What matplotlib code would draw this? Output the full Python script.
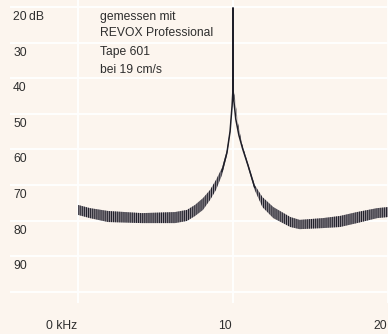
import numpy as np
import matplotlib
matplotlib.use("Agg")
import matplotlib.pyplot as plt

# Frequenz (kHz) und Band oben/unten (dB)
freq = [0.0, 0.77, 1.94, 4.13, 6.26, 7.03, 7.55, 8.06, 8.52, 8.9, 9.29, 9.61, 9.81, 9.94, 10.0,
        10.13, 10.32, 10.58, 10.97, 11.4, 11.9, 12.6, 13.7, 14.3, 15.8, 16.9, 18.0, 19.3, 20.0]
band_top = [75.6, 76.5, 77.3, 77.9, 77.6, 77.0, 75.6, 73.7, 71.4, 68.6, 65.2, 60.2, 54.6, 47.5, 42.8,
            45.8, 52.6, 58.4, 64.0, 70.0, 73.4, 76.2, 79.0, 79.8, 79.3, 78.7, 77.6, 76.5, 76.2]
band_bot = [78.4, 79.3, 80.4, 80.7, 80.7, 80.1, 78.7, 77.0, 74.2, 71.4, 67.2, 61.6, 55.4, 48.1, 43.3,
            46.4, 53.4, 59.2, 65.0, 71.4, 76.2, 79.3, 81.8, 82.4, 82.1, 81.8, 80.7, 79.3, 79.0]

# schmale Spitze bei 10 kHz
peak_f = [9.29, 9.61, 9.81, 9.94, 10.0, 10.0, 10.0, 10.06, 10.18, 10.38, 10.62, 10.97, 11.4]
peak_db = [66.2, 60.9, 55.0, 47.8, 43.0, 20.3, 43.0, 46.5, 51.5, 56.0, 59.8, 64.5, 70.7]

db_ticks = [20, 30, 40, 50, 60, 70, 80, 90, 100]
db_labels = ["20\u2009dB", "30", "40", "50", "60", "70", "80", "90", ""]
khz_ticks = [0, 10, 20]
khz_labels = ["0 kHz", "10", "20"]
note = ["gemessen mit", "REVOX Professional", "Tape 601", "bei 19 cm/s"]
note_db = [22.8, 27.3, 32.6, 37.7]

bg = "#fcf5ee"
ink = "#2e2e2e"
plt.rcParams['font.family'] = ['Liberation Sans', 'DejaVu Sans']
plt.rcParams['hatch.linewidth'] = 0.75

fig = plt.figure(figsize=(3.88, 3.34), dpi=100, facecolor=bg)
ax = fig.add_axes([0, 0, 1, 1])
ax.set_facecolor(bg)
ax.set_xlim(-78 / 15.5, 20.0)
ax.set_ylim(20 + 327 / 3.56, 20 - 7 / 3.56)
ax.axis("off")

# Raster (weiss)
ax.hlines(db_ticks, -4.39, 20.0, color="white", lw=1.3, zorder=1)
ax.vlines(khz_ticks, 20 - 7 / 3.56, 103.1, color="white", lw=1.3, zorder=1)

# Beschriftung
fs = 8.7
for v, lab in zip(db_ticks, db_labels):
    ax.text(-4.19, v + 2.8, lab, fontsize=fs, color=ink, ha="left", va="center")
for v, lab in zip(khz_ticks, khz_labels):
    ax.text(v - 0.05, 109.6, lab, fontsize=fs, color=ink, ha="right", va="center")
for v, lab in zip(note_db, note):
    ax.text(1.42, v, lab, fontsize=fs, color=ink, ha="left", va="center")

# Messkurve: gestricheltes Band + Spitze
ax.fill_between(freq, band_top, band_bot, facecolor="#9d979d", edgecolor="#1e1e28",
                hatch="||||||||", linewidth=0, zorder=2)
ax.plot(peak_f, peak_db, color="#1e1e28", lw=1.1, zorder=3)

fig.savefig("out.png", dpi=100, facecolor=bg)
